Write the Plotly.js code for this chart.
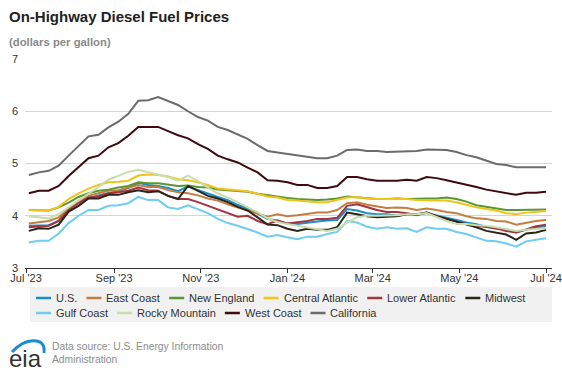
<!DOCTYPE html>
<html>
<head>
<meta charset="utf-8">
<script src="https://cdn.plot.ly/plotly-3.0.1.min.js"></script>
<style>
  html, body { margin: 0; padding: 0; background: #ffffff; }
  #chart { width: 562px; height: 375px; }
</style>
</head>
<body>
<div id="chart"></div>
<script>
// ---------- DATA (weekly, $/gal) ----------
const dates = [
  '2023-07-03','2023-07-10','2023-07-17','2023-07-24','2023-07-31','2023-08-07','2023-08-14','2023-08-21','2023-08-28',
  '2023-09-04','2023-09-11','2023-09-18','2023-09-25','2023-10-02','2023-10-09','2023-10-16','2023-10-23','2023-10-30',
  '2023-11-06','2023-11-13','2023-11-20','2023-11-27','2023-12-04','2023-12-11','2023-12-18','2023-12-25',
  '2024-01-01','2024-01-08','2024-01-15','2024-01-22','2024-01-29','2024-02-05','2024-02-12','2024-02-19','2024-02-26',
  '2024-03-04','2024-03-11','2024-03-18','2024-03-25','2024-04-01','2024-04-08','2024-04-15','2024-04-22','2024-04-29',
  '2024-05-06','2024-05-13','2024-05-20','2024-05-27','2024-06-03','2024-06-10','2024-06-17','2024-06-24','2024-07-01'
];

const usPrices = [3.81,3.82,3.82,3.90,4.13,4.28,4.34,4.39,4.43,4.47,4.53,4.63,4.59,4.57,4.53,4.47,4.56,4.49,4.42,4.36,4.30,4.21,4.14,4.04,3.94,3.91,
  3.85,3.84,3.87,3.89,3.91,3.92,4.13,4.10,4.05,4.03,4.03,4.00,4.03,4.03,4.05,4.01,3.97,3.92,3.87,3.84,3.79,3.75,3.74,3.68,3.73,3.78,3.80];
const eastCoastPrices = [3.85,3.88,3.90,3.97,4.14,4.29,4.38,4.43,4.48,4.49,4.54,4.59,4.55,4.55,4.49,4.45,4.43,4.39,4.33,4.29,4.22,4.16,4.11,4.05,3.98,4.03,
  3.99,4.01,4.03,4.06,4.06,4.11,4.24,4.26,4.21,4.18,4.15,4.16,4.15,4.11,4.14,4.11,4.07,4.05,3.99,3.95,3.94,3.90,3.89,3.83,3.87,3.90,3.92];
const newEnglandPrices = [4.11,4.10,4.10,4.16,4.25,4.36,4.43,4.48,4.50,4.54,4.57,4.64,4.62,4.62,4.60,4.57,4.58,4.55,4.54,4.50,4.49,4.47,4.46,4.42,4.39,4.37,
  4.34,4.32,4.31,4.30,4.31,4.33,4.37,4.35,4.33,4.32,4.32,4.33,4.32,4.33,4.33,4.33,4.35,4.32,4.27,4.20,4.17,4.14,4.11,4.11,4.11,4.11,4.12];
const centralAtlanticPrices = [4.11,4.10,4.10,4.17,4.32,4.43,4.52,4.59,4.64,4.65,4.67,4.77,4.79,4.78,4.75,4.70,4.68,4.64,4.59,4.52,4.50,4.49,4.47,4.42,4.37,4.35,
  4.30,4.29,4.27,4.26,4.26,4.30,4.35,4.36,4.33,4.32,4.32,4.33,4.32,4.30,4.29,4.29,4.29,4.26,4.21,4.16,4.13,4.10,4.05,4.03,4.06,4.07,4.09];
const lowerAtlanticPrices = [3.78,3.80,3.81,3.90,4.11,4.24,4.35,4.37,4.43,4.45,4.48,4.54,4.49,4.48,4.38,4.32,4.32,4.26,4.19,4.11,4.05,3.98,4.00,3.90,3.84,3.91,
  3.85,3.87,3.90,3.94,3.94,3.96,4.19,4.22,4.16,4.11,4.07,4.07,4.05,4.01,4.06,3.99,3.94,3.89,3.84,3.81,3.78,3.76,3.71,3.68,3.74,3.80,3.83];
const midwestPrices = [3.71,3.76,3.75,3.83,4.08,4.19,4.33,4.33,4.40,4.40,4.45,4.49,4.45,4.47,4.38,4.32,4.57,4.48,4.38,4.33,4.26,4.17,4.10,3.97,3.83,3.82,
  3.75,3.71,3.75,3.73,3.73,3.78,4.06,4.03,3.99,3.97,3.98,3.99,4.03,4.03,4.06,3.99,3.94,3.89,3.84,3.78,3.71,3.68,3.64,3.54,3.66,3.68,3.73];
const gulfCoastPrices = [3.49,3.52,3.52,3.66,3.86,4.00,4.11,4.11,4.19,4.20,4.24,4.36,4.30,4.30,4.16,4.13,4.20,4.13,4.05,3.94,3.86,3.81,3.75,3.68,3.60,3.63,
  3.59,3.55,3.60,3.60,3.65,3.69,3.90,3.87,3.79,3.75,3.78,3.75,3.76,3.69,3.78,3.75,3.75,3.69,3.65,3.59,3.52,3.51,3.47,3.41,3.51,3.54,3.57];
const rockyMountainPrices = [3.99,3.97,3.95,4.03,4.16,4.29,4.41,4.55,4.69,4.76,4.84,4.88,4.83,4.79,4.74,4.67,4.77,4.67,4.54,4.43,4.35,4.26,4.16,4.07,3.95,3.88,
  3.84,3.81,3.78,3.75,3.71,3.75,3.87,3.97,4.00,4.00,4.00,4.01,4.03,4.03,4.05,3.97,3.90,3.84,3.84,3.82,3.81,3.78,3.75,3.71,3.73,3.75,3.76];
const westCoastPrices = [4.43,4.48,4.48,4.57,4.76,4.93,5.10,5.15,5.31,5.39,5.53,5.70,5.70,5.70,5.62,5.54,5.48,5.37,5.28,5.15,5.08,5.02,4.92,4.83,4.68,4.67,
  4.64,4.59,4.59,4.53,4.53,4.57,4.74,4.74,4.70,4.67,4.67,4.67,4.69,4.67,4.74,4.72,4.68,4.64,4.59,4.55,4.50,4.47,4.43,4.40,4.44,4.44,4.46];
const californiaPrices = [4.78,4.83,4.86,4.96,5.15,5.34,5.52,5.55,5.69,5.80,5.95,6.20,6.21,6.27,6.20,6.12,6.00,5.89,5.82,5.70,5.64,5.56,5.47,5.35,5.24,5.21,
  5.18,5.15,5.13,5.10,5.10,5.15,5.26,5.27,5.24,5.24,5.22,5.23,5.24,5.24,5.27,5.27,5.26,5.22,5.16,5.12,5.05,4.99,4.97,4.93,4.93,4.93,4.93];

const seriesNames = ['U.S.','East Coast','New England','Central Atlantic','Lower Atlantic','Midwest',
                     'Gulf Coast','Rocky Mountain','West Coast','California'];
const seriesValues = [usPrices, eastCoastPrices, newEnglandPrices, centralAtlanticPrices, lowerAtlanticPrices,
                      midwestPrices, gulfCoastPrices, rockyMountainPrices, westCoastPrices, californiaPrices];
const seriesColors = ['#1a8dcc','#c47d40','#5a9632','#f2c318','#a5343f','#2a2416',
                      '#6fcdf2','#c9ddab','#3d0b0e','#6b6b6b'];
const yTicks = [3,4,5,6,7];

// ---------- LAYOUT HELPERS ----------
const FONT = 'Liberation Sans, Arial, sans-serif';
const M = {l: 25, r: 10, t: 59, b: 107};
const W = 562 - M.l - M.r, H = 375 - M.t - M.b;
const px = x => (x - M.l) / W;
const py = y => (M.t + H - y) / H;

const traces = seriesNames.map((name, i) => ({
  type: 'scatter', mode: 'lines', name: name,
  x: dates, y: seriesValues[i],
  line: {color: seriesColors[i], width: 2},
  showlegend: false, hoverinfo: 'skip'
}));

// custom legend (measured text)
const ctx = document.createElement('canvas').getContext('2d');
const LEG_FS = 11;
ctx.font = LEG_FS + 'px "Liberation Sans"';
const shapes = [];
const annotations = [];
const legLeft = 30, legRight = 552, legTop = 287, legBottom = 322;
shapes.push({type: 'rect', xref: 'paper', yref: 'paper', x0: px(legLeft), x1: px(legRight),
  y0: py(legBottom), y1: py(legTop), fillcolor: '#f1f1f1', line: {width: 0}, layer: 'below'});
let lx = 36, ly = 298;
seriesNames.forEach((name, i) => {
  const tw = ctx.measureText(name).width;
  const itemW = 20 + tw;
  if (lx + itemW > 548) { lx = 36; ly += 15; }
  shapes.push({type: 'line', xref: 'paper', yref: 'paper', x0: px(lx), x1: px(lx + 15),
    y0: py(ly), y1: py(ly), line: {color: seriesColors[i], width: 2.5}});
  annotations.push({xref: 'paper', yref: 'paper', x: px(lx + 18), y: py(ly), xanchor: 'left', yanchor: 'middle',
    text: name, showarrow: false, font: {family: FONT, size: LEG_FS, color: '#333333'}});
  lx += itemW + 9;
});

// subtitle
annotations.push({xref: 'paper', yref: 'paper', x: px(7), y: py(42), xanchor: 'left', yanchor: 'middle',
  text: '<b>(dollars per gallon)</b>', showarrow: false, font: {family: FONT, size: 11.3, color: '#8a8a8a'}});
// source
annotations.push({xref: 'paper', yref: 'paper', x: px(50), y: py(353), xanchor: 'left', yanchor: 'middle',
  align: 'left', text: 'Data source: U.S. Energy Information<br>Administration', showarrow: false,
  font: {family: FONT, size: 10.3, color: '#8c8c8c'}});
// logo
annotations.push({xref: 'paper', yref: 'paper', x: px(7), y: py(358), xanchor: 'left', yanchor: 'middle',
  text: 'eia', showarrow: false, font: {family: FONT, size: 24, color: '#333333'}});
const sw = [[12,352],[26,337],[40,342],[45,345],[44,353]];
shapes.push({type: 'path', xref: 'paper', yref: 'paper',
  path: `M${px(sw[0][0])},${py(sw[0][1])} Q${px(sw[1][0])},${py(sw[1][1])} ${px(sw[2][0])},${py(sw[2][1])} Q${px(sw[3][0])},${py(sw[3][1])} ${px(sw[4][0])},${py(sw[4][1])}`,
  line: {color: '#1a8dd0', width: 3}});

const layout = {
  width: 562, height: 375,
  margin: M,
  paper_bgcolor: '#ffffff', plot_bgcolor: '#ffffff',
  font: {family: FONT, size: 11, color: '#333333'},
  title: {text: '<b>On-Highway Diesel Fuel Prices</b>', xref: 'container', yref: 'container',
    x: 9 / 562, xanchor: 'left', y: 1 - 17 / 375, yanchor: 'middle',
    font: {family: FONT, size: 15, color: '#222222'}},
  xaxis: {
    type: 'date', range: ['2023-06-30 07:00', '2024-07-05 05:00'],
    tick0: '2023-07-01', dtick: 'M2', tickformat: "%b '%y",
    showgrid: false, zeroline: false, showline: true, linecolor: '#333333', linewidth: 1,
    ticks: 'outside', ticklen: 4, tickcolor: '#333333', tickwidth: 1, ticklabelstandoff: -4,
    tickfont: {family: FONT, size: 11, color: '#333333'}
  },
  yaxis: {
    range: [3, 7], tickvals: yTicks, ticktext: yTicks.map(String),
    showgrid: true, gridcolor: '#d4d4d4', gridwidth: 1, zeroline: false, showline: false,
    ticks: '', ticklabelstandoff: 6,
    tickfont: {family: FONT, size: 11, color: '#333333'}
  },
  shapes: shapes,
  annotations: annotations,
  showlegend: false
};

Plotly.newPlot('chart', traces, layout, {displayModeBar: false, staticPlot: true});
</script>
</body>
</html>
